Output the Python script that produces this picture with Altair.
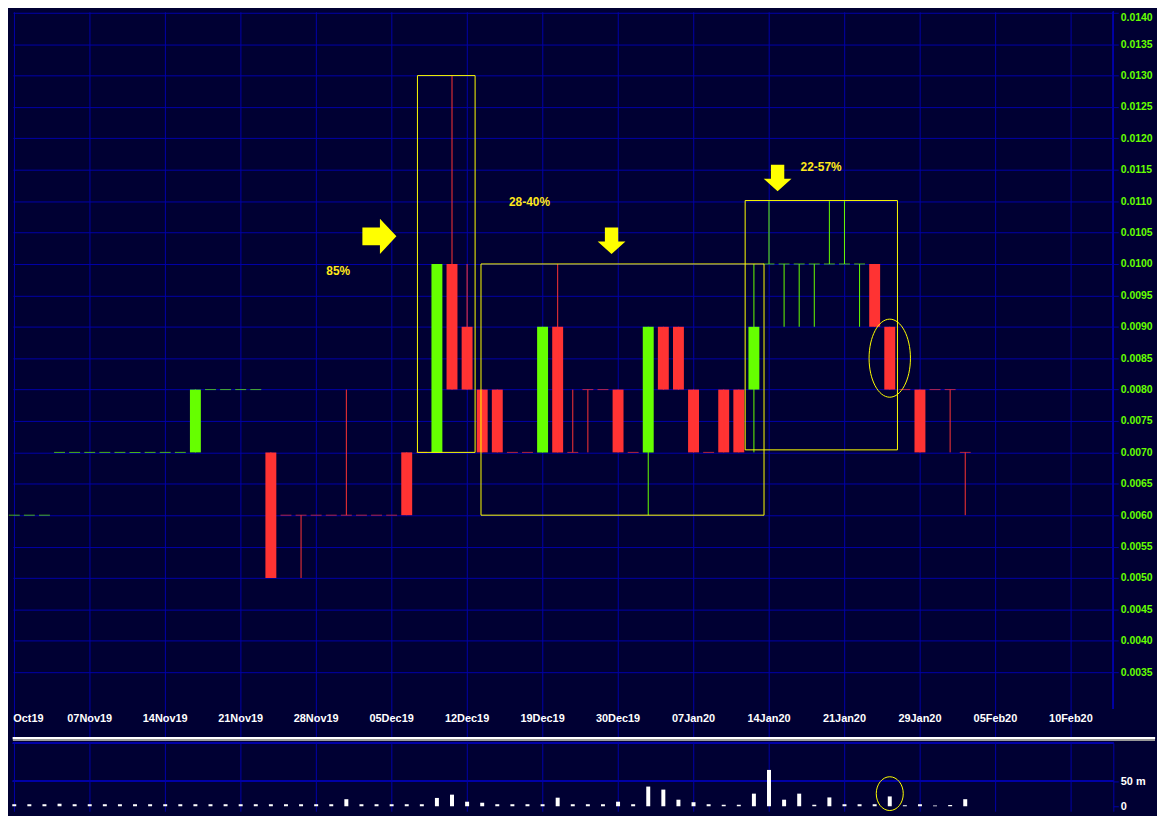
import altair as alt
import pandas as pd

# ---------------- data (trading-day index 0 = 31 Oct 2019) ----------------
day_idx = list(range(64))
open_p = [0.006, 0.006, 0.006,
          0.007, 0.007, 0.007, 0.007, 0.007, 0.007, 0.007, 0.007, 0.007,
          0.007, 0.008, 0.008, 0.008, 0.008, 0.007,
          0.006, 0.006, 0.006, 0.006, 0.006, 0.006, 0.006, 0.006,
          0.007, 0.007, 0.007, 0.010, 0.009, 0.008, 0.008, 0.007, 0.007, 0.007,
          0.009, 0.007, 0.008, 0.008, 0.008, 0.007, 0.007, 0.009, 0.009, 0.008,
          0.007, 0.008, 0.008, 0.008,
          0.010, 0.010, 0.010, 0.010, 0.010, 0.010, 0.010,
          0.010, 0.009, 0.008, 0.008, 0.008, 0.008, 0.007]
close_p = [0.006, 0.006, 0.006,
           0.007, 0.007, 0.007, 0.007, 0.007, 0.007, 0.007, 0.007, 0.007,
           0.008, 0.008, 0.008, 0.008, 0.008, 0.005,
           0.006, 0.006, 0.006, 0.006, 0.006, 0.006, 0.006, 0.006,
           0.006, 0.007, 0.010, 0.008, 0.008, 0.007, 0.007, 0.007, 0.007, 0.009,
           0.007, 0.007, 0.008, 0.008, 0.007, 0.007, 0.009, 0.008, 0.008, 0.007,
           0.007, 0.007, 0.007, 0.009,
           0.010, 0.010, 0.010, 0.010, 0.010, 0.010, 0.010,
           0.009, 0.008, 0.008, 0.007, 0.008, 0.008, 0.007]
high_p = [0.006, 0.006, 0.006,
          0.007, 0.007, 0.007, 0.007, 0.007, 0.007, 0.007, 0.007, 0.007,
          0.008, 0.008, 0.008, 0.008, 0.008, 0.007,
          0.006, 0.006, 0.006, 0.006, 0.008, 0.006, 0.006, 0.006,
          0.007, 0.007, 0.010, 0.013, 0.010, 0.008, 0.008, 0.007, 0.007, 0.009,
          0.010, 0.008, 0.008, 0.008, 0.008, 0.007, 0.009, 0.009, 0.009, 0.008,
          0.007, 0.008, 0.008, 0.010,
          0.011, 0.010, 0.010, 0.010, 0.011, 0.011, 0.010,
          0.010, 0.009, 0.008, 0.008, 0.008, 0.008, 0.007]
low_p = [0.006, 0.006, 0.006,
         0.007, 0.007, 0.007, 0.007, 0.007, 0.007, 0.007, 0.007, 0.007,
         0.007, 0.008, 0.008, 0.008, 0.008, 0.005,
         0.006, 0.005, 0.006, 0.006, 0.006, 0.006, 0.006, 0.006,
         0.006, 0.007, 0.007, 0.008, 0.008, 0.007, 0.007, 0.007, 0.007, 0.007,
         0.007, 0.007, 0.007, 0.008, 0.007, 0.007, 0.006, 0.008, 0.008, 0.007,
         0.007, 0.007, 0.007, 0.007,
         0.010, 0.009, 0.009, 0.009, 0.010, 0.010, 0.009,
         0.009, 0.008, 0.008, 0.007, 0.008, 0.007, 0.006]
volume_m = [4, 4, 4, 5, 4, 4, 4, 4, 4, 4, 4, 4, 4, 4, 4, 4, 4, 4, 4, 4, 4, 4,
            14, 4, 4, 4, 4, 4, 16.5, 23, 9, 7, 4, 4, 4, 4, 17, 4, 4, 4, 9, 4,
            39, 33, 13, 8, 4, 3, 3, 25, 72, 13, 25, 3, 17.5, 4, 4, 4, 19.5,
            2, 4, 1.5, 2.5, 14]

tick_idx = [0, 5, 10, 15, 20, 25, 30, 35, 40, 45, 50, 55, 60, 65, 70]
tick_labels = ["Oct19", "07Nov19", "14Nov19", "21Nov19", "28Nov19", "05Dec19",
               "12Dec19", "19Dec19", "30Dec19", "07Jan20", "14Jan20", "21Jan20",
               "29Jan20", "05Feb20", "10Feb20"]
price_ticks = [0.0035, 0.0040, 0.0045, 0.0050, 0.0055, 0.0060, 0.0065, 0.0070,
               0.0075, 0.0080, 0.0085, 0.0090, 0.0095, 0.0100, 0.0105, 0.0110,
               0.0115, 0.0120, 0.0125, 0.0130, 0.0135, 0.0140]

# annotation boxes (day index / price)
box_x0 = [26.71, 30.92, 48.42]
box_x1 = [30.53, 49.67, 58.51]
box_y0 = [0.0070, 0.0060, 0.00704]
box_y1 = [0.0130, 0.0100, 0.01101]
note_text = ["85%", "28-40%", "22-57%"]
note_x = [21.46, 34.13, 53.45]
note_y = [0.00988, 0.01099, 0.01155]
right_arrow_x = [24.19]
right_arrow_y = [0.01044]
down_arrow_x = [39.57, 50.57]
down_arrow_y = [0.01037, 0.01137]
ring_x = [58.0]
ring_y = [0.0085]
vol_ring_x = [58.0]
vol_ring_y = [25]

# ---------------- styling / geometry ----------------
BG = "#000033"
GRID = "#0000A8"
GREEN = "#66FF00"
RED = "#FF3333"
YELLOW = "#FFFF00"
FONT = "Liberation Sans"

W = 1108
H_PRICE = 734
H_VOL = 69
PX_DAY = 15.2
PX_PRICE = 63238.0
PX_VOL = 0.508

x_scale = alt.Scale(domain=[-1.3 / PX_DAY, (W - 1.3) / PX_DAY], zero=False, nice=False,
                    padding=0)
y_top = 0.0140 + 1 / PX_PRICE
y_scale = alt.Scale(domain=[y_top - H_PRICE / PX_PRICE, y_top], zero=False, nice=False,
                    padding=0)
v_scale = alt.Scale(domain=[-5 / PX_VOL, 64 / PX_VOL], zero=False, nice=False, padding=0)

x_axis = alt.Axis(values=tick_idx, grid=True, gridColor=GRID, gridWidth=1,
                  labels=False, ticks=False, domain=False, title=None)
y_axis = alt.Axis(orient="right", values=price_ticks, format=".4f", grid=True,
                  gridColor=GRID, gridWidth=1, domain=False, tickColor=GRID,
                  tickSize=5, labelColor=GREEN, labelFont=FONT, labelFontSize=10.5,
                  labelFontWeight="bold", labelPadding=2, title=None,
                  labelBaseline={"condition": {"test": "datum.value > 0.01399",
                                               "value": "top"},
                                 "value": "middle"})

df = pd.DataFrame({"idx": day_idx, "open": open_p, "close": close_p,
                   "high": high_p, "low": low_p})
dirs = []
prev = "up"
for o, c in zip(open_p, close_p):
    if c > o:
        prev = "up"
    elif c < o:
        prev = "down"
    dirs.append(prev)
df["dir"] = dirs

X = alt.X("idx:Q", scale=x_scale, axis=x_axis)
color_enc = alt.Color("dir:N", scale=alt.Scale(domain=["up", "down"], range=[GREEN, RED]),
                      legend=None)

bodies = alt.Chart(df).mark_bar(size=11).encode(
    x=X, y=alt.Y("open:Q", scale=y_scale, axis=y_axis), y2="close:Q", color=color_enc)
wicks = alt.Chart(df).transform_filter("datum.high > datum.low").mark_rule(strokeWidth=1).encode(
    x=X, y=alt.Y("low:Q", scale=y_scale, axis=y_axis), y2="high:Q", color=color_enc)
flats = alt.Chart(df).transform_filter("datum.open == datum.close").mark_tick(
    orient="horizontal", size=11, thickness=1).encode(
    x=X, y=alt.Y("close:Q", scale=y_scale, axis=y_axis), color=color_enc)

boxes_df = pd.DataFrame({"idx": box_x0, "x1": box_x1, "y0": box_y0, "y1": box_y1})
boxes = alt.Chart(boxes_df).mark_rect(fillOpacity=0, stroke=YELLOW, strokeWidth=1).encode(
    x=X, x2="x1:Q", y=alt.Y("y0:Q", scale=y_scale, axis=y_axis), y2="y1:Q")

notes_df = pd.DataFrame({"idx": note_x, "y": note_y, "t": note_text})
notes = alt.Chart(notes_df).mark_text(font=FONT, fontSize=12, fontWeight="bold",
                                      color="#FFE81A").encode(
    x=X, y=alt.Y("y:Q", scale=y_scale, axis=y_axis), text="t:N")

RIGHT_ARROW = "M-0.96,-0.5L0.03,-0.5L0.03,-1L0.96,0L0.03,1L0.03,0.5L-0.96,0.5Z"
DOWN_ARROW = "M-0.48,-0.95L0.48,-0.95L0.48,0.05L1,0.05L0,0.96L-1,0.05L-0.48,0.05Z"


def ellipse_path(rx):
    k = round(rx * 0.5523, 4)
    return (f"M{rx},0C{rx},0.5523 {k},1 0,1C{-k},1 {-rx},0.5523 {-rx},0"
            f"C{-rx},-0.5523 {-k},-1 0,-1C{k},-1 {rx},-0.5523 {rx},0Z")


ra_df = pd.DataFrame({"idx": right_arrow_x, "y": right_arrow_y})
r_arrow = alt.Chart(ra_df).mark_point(shape=RIGHT_ARROW, size=1274, filled=True,
                                      color=YELLOW, opacity=1, strokeWidth=0).encode(
    x=X, y=alt.Y("y:Q", scale=y_scale, axis=y_axis))
da_df = pd.DataFrame({"idx": down_arrow_x, "y": down_arrow_y})
d_arrow = alt.Chart(da_df).mark_point(shape=DOWN_ARROW, size=784, filled=True,
                                      color=YELLOW, opacity=1, strokeWidth=0).encode(
    x=X, y=alt.Y("y:Q", scale=y_scale, axis=y_axis))
ring_df = pd.DataFrame({"idx": ring_x, "y": ring_y})
ring = alt.Chart(ring_df).mark_point(shape=ellipse_path(0.53), size=6178, filled=False,
                                     color=YELLOW, opacity=1, strokeWidth=1).encode(
    x=X, y=alt.Y("y:Q", scale=y_scale, axis=y_axis))

dates_df = pd.DataFrame({"idx": tick_idx, "label": tick_labels})
dates = alt.Chart(dates_df).transform_filter("datum.idx > 0").mark_text(
    clip=True, font=FONT, fontSize=11, fontWeight="bold",
    color="white", baseline="middle").encode(
    x=X, y=alt.value(H_PRICE - 22), text="label:N")
first_date = alt.Chart(dates_df).transform_filter("datum.idx == 0").mark_text(
    clip=True, font=FONT, fontSize=11, fontWeight="bold", color="white",
    baseline="middle", align="left", dx=-1).encode(
    x=X, y=alt.value(H_PRICE - 22), text="label:N")

sep_white = alt.Chart(dates_df).mark_rule(color="white", strokeWidth=2).encode(
    x=alt.value(0), x2=alt.value(1150), y=alt.value(H_PRICE - 2.7))
sep_gray = alt.Chart(dates_df).mark_rule(color="#9A9A9A", strokeWidth=1).encode(
    x=alt.value(0), x2=alt.value(1150), y=alt.value(H_PRICE - 0.8))
axis_line = alt.Chart(dates_df).mark_rule(color=GRID, strokeWidth=1).encode(
    x=alt.value(W), y=alt.value(0), y2=alt.value(H_PRICE - 32))

price = alt.layer(bodies, wicks, flats, boxes, ring, r_arrow, d_arrow, notes, dates,
                  first_date, axis_line, sep_white, sep_gray).properties(
    width=W, height=H_PRICE)

# ---------------- volume panel ----------------
vol_df = pd.DataFrame({"idx": day_idx, "vol": volume_m})
v_axis = alt.Axis(orient="right", values=[0, 50],
                  labelExpr="datum.value == 50 ? '50 m' : '0'", grid=False,
                  domain=True, domainColor=GRID, tickColor=GRID, tickSize=5,
                  labelColor="white", labelFont=FONT, labelFontSize=11,
                  labelFontWeight="bold", labelPadding=2, title=None)
XV = alt.X("idx:Q", scale=x_scale, axis=x_axis)
vbars = alt.Chart(vol_df).mark_bar(size=4, color="white").encode(
    x=XV, y=alt.Y("vol:Q", scale=v_scale, axis=v_axis), y2=alt.datum(0))
vgrid = alt.Chart(vol_df).mark_rule(color=GRID, strokeWidth=1).encode(
    y=alt.datum(50))
vtop = alt.Chart(vol_df).mark_rule(color=GRID, strokeWidth=1).encode(
    x=alt.value(0), x2=alt.value(W), y=alt.value(0.5))
vring_df = pd.DataFrame({"idx": vol_ring_x, "vol": vol_ring_y})
vring = alt.Chart(vring_df).mark_point(shape=ellipse_path(0.8), size=1156, filled=False,
                                       color=YELLOW, opacity=1, strokeWidth=1).encode(
    x=XV, y=alt.Y("vol:Q", scale=v_scale, axis=v_axis))

volume = alt.layer(vgrid, vtop, vbars, vring).properties(width=W, height=H_VOL)

chart = alt.vconcat(price, volume, spacing=0).properties(
    padding=0, background=BG).configure_view(stroke="transparent")

chart.save("out.html", embed_options={"renderer": "svg", "actions": False})
